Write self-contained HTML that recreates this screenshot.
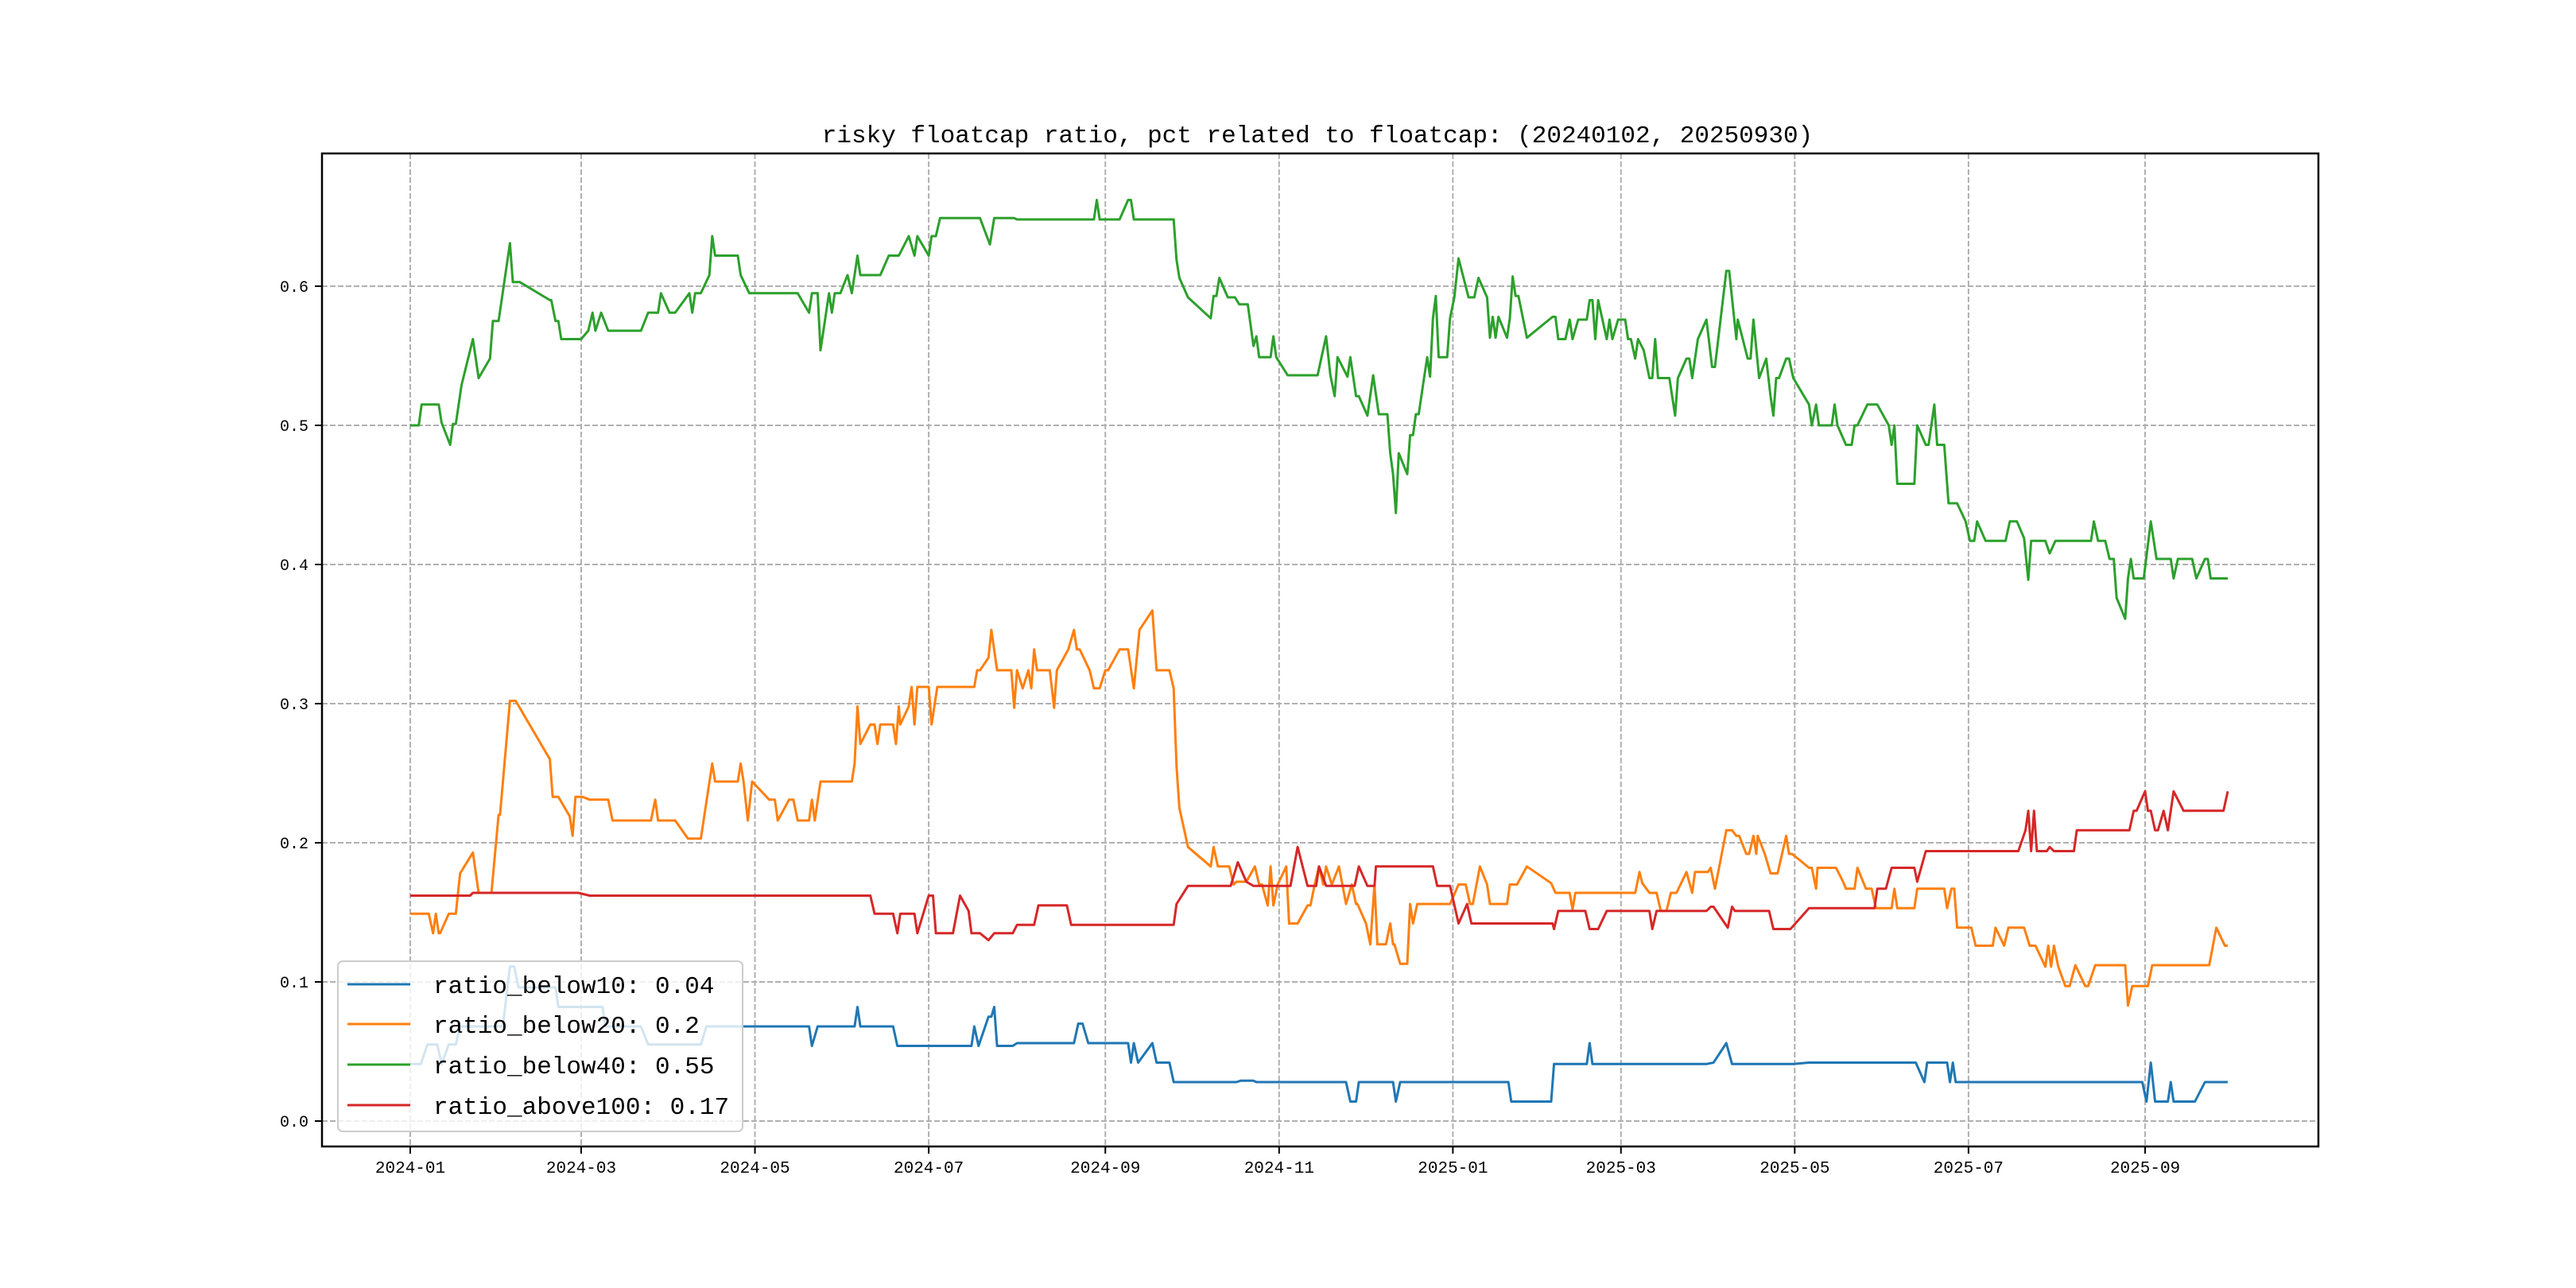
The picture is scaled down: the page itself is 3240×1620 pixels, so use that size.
<!DOCTYPE html>
<html><head><meta charset="utf-8">
<style>
html,body{margin:0;padding:0;background:#fff;}
svg{display:block;}
text{font-family:"Liberation Mono","Noto Sans CJK SC",monospace;fill:#000;}
</style></head>
<body>
<svg id="chart" width="3240" height="1620" viewBox="0 0 3240 1620" xmlns="http://www.w3.org/2000/svg">
<rect width="3240" height="1620" fill="#fff"/>
<text x="1657" y="179" font-size="31" text-anchor="middle">risky floatcap ratio, pct related to floatcap: (20240102, 20250930)</text>
<g id="grid"></g>
<g id="series"></g>
<rect x="405" y="193" width="2511" height="1249" fill="none" stroke="#000" stroke-width="2.5"/>
<g id="ticks"></g>
<g id="legend"></g>
</svg>
<script>
const xTickDays = [0,60,121,182,244,305,366,425,486,547,609];
const xTickLabels = ["2024-01","2024-03","2024-05","2024-07","2024-09","2024-11","2025-01","2025-03","2025-05","2025-07","2025-09"];
const yTickValues = [0,0.1,0.2,0.3,0.4,0.5,0.6];
const yTickLabels = ["0.0","0.1","0.2","0.3","0.4","0.5","0.6"];
const seriesNames = ["ratio_below10: 0.04","ratio_below20: 0.2","ratio_below40: 0.55","ratio_above100: 0.17"];
const seriesColors = ["#1f77b4","#ff7f0e","#2ca02c","#d62728"];

const below10 = [[0,.041],[3.7,.041],[6,.055],[9.5,.055],[11,.041],[13.5,.055],[16,.055],[17.5,.068],[32.5,.068],[35,.111],[36.5,.111],[38,.096],[51,.096],[52,.082],[67.5,.082],[68.5,.068],[81,.068],[83.5,.055],[102,.055],[104,.068],[140,.068],[141,.054],[143,.068],[156,.068],[157,.082],[158,.068],[169.5,.068],[171,.054],[197,.054],[198,.068],[199.5,.054],[203,.075],[204,.075],[205,.082],[206,.054],[211.5,.054],[213,.056],[233,.056],[234.5,.070],[236,.070],[238,.056],[252,.056],[253,.042],[254,.056],[255.5,.042],[260.5,.056],[262,.042],[266.5,.042],[268,.028],[290,.028],[291.5,.029],[296,.029],[297,.028],[328.5,.028],[330,.014],[332,.014],[333,.028],[345,.028],[346,.014],[347.5,.028],[385.5,.028],[386.5,.014],[400.5,.014],[401.5,.041],[413,.041],[414,.056],[415,.041],[455,.041],[457.5,.042],[462,.056],[464,.041],[485.5,.041],[491,.042],[528.5,.042],[531.5,.028],[532.5,.042],[539.5,.042],[540.5,.028],[541.5,.042],[542.5,.028],[608,.028],[609.5,.014],[611,.042],[612.5,.014],[617,.014],[618,.028],[619,.014],[626.5,.014],[630,.028],[638,.028]];

const below20 = [[0,.149],[6.5,.149],[8,.135],[9,.149],[10,.135],[10.5,.135],[13.5,.149],[16,.149],[17.5,.178],[22,.193],[24,.164],[28.5,.164],[31,.220],[31.5,.220],[35,.302],[37,.302],[49,.260],[50,.233],[52,.233],[56,.219],[57,.205],[58,.233],[60.5,.233],[63,.231],[69.5,.231],[71,.216],[84.5,.216],[86,.231],[87,.216],[93,.216],[97.5,.203],[102,.203],[106,.257],[107,.244],[115,.244],[116,.257],[117,.244],[118.5,.216],[120,.244],[126,.231],[128,.231],[129,.216],[133,.231],[134.5,.231],[136,.216],[140,.216],[141,.231],[142,.216],[144,.244],[155,.244],[156,.257],[157,.298],[158,.271],[161.5,.285],[163,.285],[164,.271],[165,.285],[169.5,.285],[170.5,.271],[171.5,.298],[172,.285],[175,.298],[176,.312],[177,.285],[178,.312],[182,.312],[183,.285],[185,.312],[198,.312],[199,.324],[200,.324],[203,.333],[204,.353],[206,.324],[211,.324],[212,.297],[213,.324],[215,.311],[217,.324],[218,.311],[219,.339],[220,.324],[224.5,.324],[226,.297],[227,.324],[231,.339],[233,.353],[234,.339],[235,.339],[238.5,.324],[240,.311],[242,.311],[244,.324],[245,.324],[249,.339],[252,.339],[254,.311],[256,.353],[260.5,.367],[262,.324],[266.5,.324],[268,.311],[269,.255],[270,.225],[273,.197],[281,.183],[282,.197],[283.5,.183],[287.5,.183],[289,.170],[290,.172],[293.5,.172],[296.5,.183],[298,.170],[299,.170],[301,.155],[302,.183],[303,.155],[304.5,.170],[307.5,.183],[308.5,.142],[311.5,.142],[315,.155],[316,.155],[317.5,.170],[319,.183],[320.5,.170],[321.5,.183],[323.5,.170],[326,.183],[328.5,.156],[330.5,.170],[332,.156],[332.5,.156],[335.5,.142],[337,.127],[338.5,.170],[339.5,.127],[342.5,.127],[344,.142],[345,.127],[345.5,.127],[347.5,.113],[350,.113],[351,.156],[352,.142],[353.5,.156],[365,.156],[368,.170],[370.5,.170],[372,.156],[373,.156],[375.5,.183],[378,.170],[379,.156],[385,.156],[386,.170],[388.5,.170],[392,.183],[400.5,.171],[402,.164],[407,.164],[408,.152],[409,.164],[430,.164],[431.5,.179],[432.5,.171],[435,.164],[437.5,.164],[439,.151],[441,.151],[442.5,.164],[444.5,.164],[448,.179],[450,.164],[451,.179],[455.5,.179],[456.5,.182],[458,.167],[460,.188],[462,.209],[464,.209],[465.5,.205],[466.5,.205],[469,.192],[470,.192],[471.5,.205],[472.5,.192],[473,.205],[475.5,.192],[477.5,.178],[480,.178],[483,.205],[484,.192],[485,.192],[487.5,.188],[491,.182],[492,.182],[493.5,.167],[494,.182],[500.5,.182],[503,.172],[504,.167],[507,.167],[508,.182],[511,.167],[513,.167],[514.5,.153],[520,.153],[521,.167],[522,.153],[528,.153],[529,.167],[538.5,.167],[539.5,.153],[541,.167],[542,.167],[543,.139],[548,.139],[549.5,.126],[555.5,.126],[556.5,.139],[559.5,.126],[561,.139],[566.5,.139],[568.5,.126],[570.5,.126],[574,.111],[575,.126],[576,.111],[577,.126],[578.5,.111],[581,.097],[582.5,.097],[584.5,.112],[588,.097],[589,.097],[591.5,.112],[602,.112],[603,.083],[604.5,.097],[610,.097],[611.5,.112],[631.5,.112],[634,.139],[637,.126],[638,.126]];

const below40 = [[0,.5],[3,.5],[4,.515],[10,.515],[11,.502],[14,.486],[15,.501],[16,.501],[18,.529],[22,.562],[24,.534],[28,.548],[29,.575],[31,.575],[35,.631],[36,.603],[38.5,.603],[49,.590],[49.5,.590],[51,.575],[52,.575],[53,.562],[60,.562],[62.5,.568],[64,.581],[65,.568],[67,.581],[69.5,.568],[81,.568],[83.5,.581],[87,.581],[88,.595],[91,.581],[93,.581],[98,.595],[99,.581],[100,.595],[102,.595],[105,.608],[106,.636],[107,.622],[115,.622],[116,.608],[119,.595],[136,.595],[140,.581],[141,.595],[143,.595],[144,.554],[147,.595],[148,.581],[149,.595],[151,.595],[153.5,.608],[155,.595],[157,.622],[158,.608],[165,.608],[168,.622],[171.5,.622],[175,.636],[177,.622],[178,.636],[182,.622],[183,.636],[184.5,.636],[186,.649],[200,.649],[203.5,.630],[205,.649],[212,.649],[213,.648],[240,.648],[241,.662],[242,.648],[249,.648],[252,.662],[253,.662],[254,.648],[268,.648],[269,.619],[270,.606],[273,.592],[281,.577],[282,.593],[283,.593],[284,.606],[287,.592],[289.5,.592],[291,.587],[294,.587],[296,.557],[297,.564],[298,.549],[302,.549],[303,.564],[304,.549],[308,.536],[318.5,.536],[321.5,.564],[323,.536],[324.5,.521],[325.5,.549],[329,.535],[330,.549],[332,.521],[333,.521],[336,.507],[338,.536],[340,.508],[343,.508],[344,.480],[345,.465],[346,.437],[347,.480],[350,.465],[351,.493],[352,.493],[353,.508],[354,.508],[355.5,.529],[357,.549],[358,.535],[359,.577],[360,.593],[361,.549],[364,.549],[365,.577],[366.5,.592],[368,.620],[371.5,.592],[373.5,.592],[375,.606],[378,.592],[379,.563],[380,.578],[381,.563],[382,.578],[385,.563],[386,.577],[387,.607],[388,.593],[389,.593],[392,.563],[401,.578],[402,.578],[403,.562],[405.5,.562],[407,.576],[408,.562],[410,.576],[413,.576],[414,.590],[415,.590],[416,.562],[417,.590],[420,.562],[421,.576],[422,.562],[424,.576],[426.5,.576],[427.5,.562],[428.5,.562],[430,.548],[431,.562],[433,.554],[435,.534],[436,.534],[437,.562],[438,.534],[442,.534],[444,.507],[445,.534],[448,.548],[449,.548],[450,.534],[452,.562],[455,.576],[457,.542],[458,.542],[462,.611],[463,.611],[465.5,.562],[466,.576],[469.5,.548],[470.5,.548],[471.5,.576],[473.5,.534],[476,.548],[477.5,.521],[478.5,.507],[479.5,.534],[480.5,.534],[483,.548],[484,.548],[485.5,.534],[491,.515],[492,.500],[493.5,.515],[494.5,.500],[499,.500],[500,.515],[501,.500],[504,.486],[506,.486],[507,.500],[508,.500],[511.5,.515],[515,.515],[519,.500],[520,.486],[521,.500],[522,.458],[528,.458],[529,.500],[532,.486],[533,.486],[535,.515],[536,.486],[538.5,.486],[540,.444],[543,.444],[546,.431],[547.5,.417],[549,.417],[550,.431],[553,.417],[560,.417],[561.5,.431],[564,.431],[566.5,.419],[568,.389],[569,.417],[574,.417],[575.5,.408],[577.5,.417],[590,.417],[591,.431],[592.5,.417],[595,.417],[596.5,.404],[598,.404],[599,.376],[602,.361],[603,.390],[604,.404],[605,.390],[608.5,.390],[611,.431],[613,.404],[618,.404],[619,.390],[620.5,.404],[625.5,.404],[627,.390],[630,.404],[631,.404],[632,.390],[638,.390]];

const above100 = [[0,.162],[21,.162],[22,.164],[59,.164],[63,.162],[161.5,.162],[163,.149],[169.5,.149],[171,.135],[172,.149],[177,.149],[178,.135],[182,.162],[183.5,.162],[184.5,.135],[190.5,.135],[193,.162],[196,.151],[197,.135],[200,.135],[203,.130],[205,.135],[211.5,.135],[213,.141],[219,.141],[220.5,.155],[230.5,.155],[232,.141],[268,.141],[269,.156],[273,.169],[288,.169],[290.5,.186],[293.5,.172],[296,.169],[309,.169],[311.5,.197],[315,.169],[318,.169],[319,.183],[321.5,.169],[331.5,.169],[333,.183],[336,.169],[338.5,.169],[339,.183],[359,.183],[360.5,.169],[365,.169],[368,.142],[371,.156],[372.5,.142],[401,.142],[401.5,.138],[403,.151],[412.5,.151],[414,.138],[417,.138],[420,.151],[435,.151],[436,.138],[437.5,.151],[455,.151],[456.5,.154],[457.5,.154],[462.5,.139],[464,.154],[465,.151],[477,.151],[478.5,.138],[484.5,.138],[491,.153],[514,.153],[515,.167],[518,.167],[520,.182],[528,.182],[529,.172],[532,.194],[564.5,.194],[567,.209],[568,.223],[569,.194],[570,.223],[571,.194],[574.5,.194],[575.5,.197],[577,.194],[584,.194],[585,.209],[603.5,.209],[605,.223],[606,.223],[609,.237],[610,.223],[611,.223],[612.5,.209],[613.5,.209],[615.5,.223],[617,.209],[619,.237],[622.5,.223],[636.5,.223],[638,.237]];

const NS = "http://www.w3.org/2000/svg";
function xScale(d){ return 516 + d*3.583; }
function yScale(v){ return 1410 - v*1750; }
function mk(tag, attrs, parent){ const e=document.createElementNS(NS,tag); for(const k in attrs) e.setAttribute(k,attrs[k]); parent.appendChild(e); return e; }

const grid=document.getElementById('grid'), ticks=document.getElementById('ticks'), series=document.getElementById('series'), legend=document.getElementById('legend');

xTickDays.forEach((d,i)=>{
  const x=xScale(d);
  const gl=mk('line',{x1:x,x2:x,y1:193,y2:1442,stroke:'#b0b0b0','stroke-width':2,'stroke-dasharray':'7,3'},grid);
  
  
  const tk=mk('line',{x1:x,x2:x,y1:1442,y2:1451,stroke:'#000','stroke-width':2},ticks);
  
  
  const t=mk('text',{x:x,y:1475,'font-size':21,'text-anchor':'middle'},ticks);
  t.textContent=xTickLabels[i];
  
  
});
yTickValues.forEach((v,i)=>{
  const y=yScale(v);
  const gl=mk('line',{x1:405,x2:2916,y1:y,y2:y,stroke:'#b0b0b0','stroke-width':2,'stroke-dasharray':'7,3'},grid);
  
  
  const tk=mk('line',{x1:396,x2:405,y1:y,y2:y,stroke:'#000','stroke-width':2},ticks);
  
  
  const t=mk('text',{x:388,y:y+7,'font-size':20,'text-anchor':'end'},ticks);
  t.textContent=yTickLabels[i];
  
  
});

const allSeries=[below10,below20,below40,above100];
const lineNames=['line-ratio-below10','line-ratio-below20','line-ratio-below40','line-ratio-above100'];
allSeries.forEach((pts,i)=>{
  const d=pts.map((p,j)=>(j?'L':'M')+xScale(p[0]).toFixed(1)+' '+yScale(p[1]).toFixed(1)).join(' ');
  const p=mk('path',{d:d,fill:'none',stroke:seriesColors[i],'stroke-width':3,'stroke-linejoin':'round'},series);
  
  
});

const box=mk('rect',{x:425,y:1209,width:509,height:214,rx:6,fill:'#fff','fill-opacity':0.8,stroke:'#cccccc','stroke-width':2},legend);


const rowsY=[1238,1288,1339,1390];
seriesNames.forEach((n,i)=>{
  const l=mk('line',{x1:437,x2:516,y1:rowsY[i],y2:rowsY[i],stroke:seriesColors[i],'stroke-width':3},legend);
  
  
  const t=mk('text',{x:545,y:rowsY[i]+11,'font-size':31},legend);
  t.textContent=n;
  
  
});
</script>
</body></html>
